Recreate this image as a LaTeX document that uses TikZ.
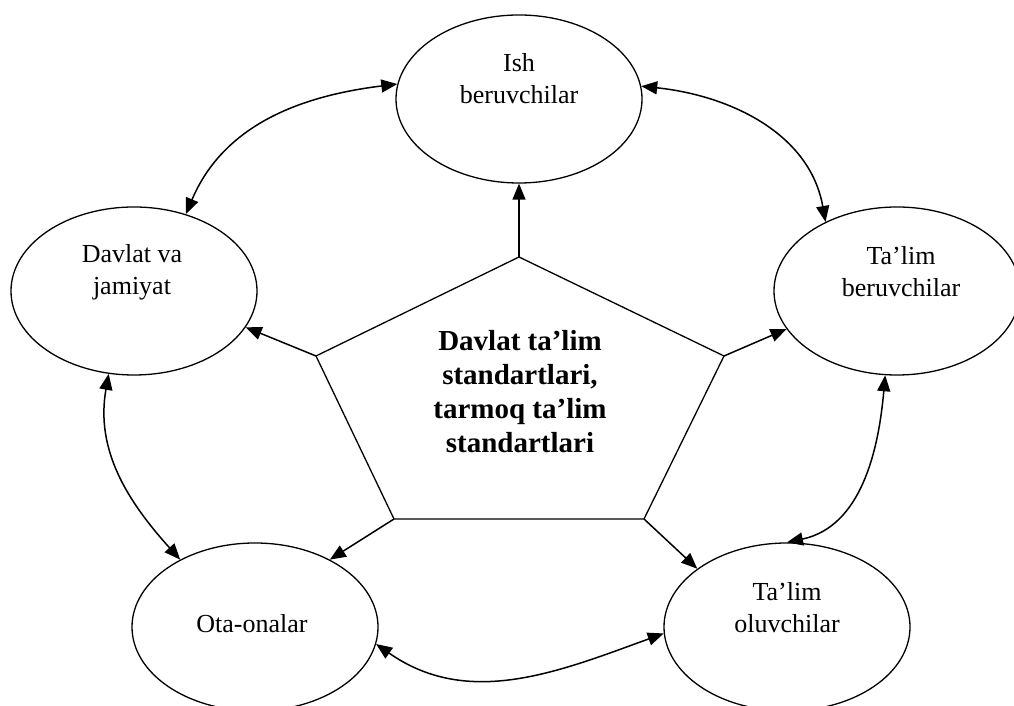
\documentclass[tikz,border=0pt]{standalone}
\usepackage{fontspec}
\setmainfont{Liberation Serif}
\usetikzlibrary{shapes.geometric,arrows.meta}
\begin{document}
\begin{tikzpicture}[x=1pt,y=1pt,
        oval/.style={draw,ellipse,line width=1.3pt,minimum width=246pt,minimum height=168pt,inner sep=0pt},
        txt/.style={align=center,font=\fontsize{26}{32}\selectfont},
        arr/.style={line width=1.5pt,-{Triangle[length=16pt,width=13pt]}},
        darr/.style={line width=1.5pt,{Triangle[length=16pt,width=13pt]}-{Triangle[length=16pt,width=13pt]}}]
        \useasboundingbox (0,0) rectangle (1014,706);
        \node[oval] (ish) at (519,607) {};
        \node[oval] (dav) at (134,415) {};
        \node[oval] (tab) at (897,415) {};
        \node[oval] (ota) at (255,79) {};
        \node[oval] (olu) at (787,79) {};
        \node[txt] (ish-t) at (519,627) {Ish\\beruvchilar};
        \node[txt] (dav-t) at (132,434) {Davlat va\\jamiyat};
        \node[txt] (tab-t) at (901,434) {Ta’lim\\beruvchilar};
        \node[txt] (ota-t) at (252,82) {Ota-onalar};
        \node[txt] (olu-t) at (787,98) {Ta’lim\\oluvchilar};
        \coordinate (pt) at (519,449);
        \coordinate (pl) at (316,350);
        \coordinate (pr) at (724,350);
        \coordinate (pbl) at (394,187);
        \coordinate (pbr) at (644,187);
        \draw[line width=1.3pt,line join=miter] (pt) -- (pr) -- (pbr) -- (pbl) -- (pl) -- cycle;
        \node[align=center,font=\fontsize{29}{34}\selectfont\bfseries] (dts) at (520,314)
            {Davlat ta’lim\\standartlari,\\tarmoq ta’lim\\standartlari};
        \draw[arr] (pt) -- (ish);
        \draw[arr] (pl) -- (dav.-18);
        \draw[arr] (pr) -- (tab.199);
        \draw[arr] (pbl) -- (ota.42);
        \draw[arr] (pbr) -- (olu.147);
        \draw[darr] (dav.56) to[out=67,in=187] (ish.173);
        \draw[darr] (ish.6) to[out=-6,in=100] (tab.136);
        \draw[darr] (tab.262) to[out=-95,in=12] (olu.90);
        \draw[darr] (dav.253) to[out=-100,in=132] (ota.138);
        \draw[darr] (ota.-8) to[out=-35,in=200] (olu.183);
    \end{tikzpicture}
\end{document}
